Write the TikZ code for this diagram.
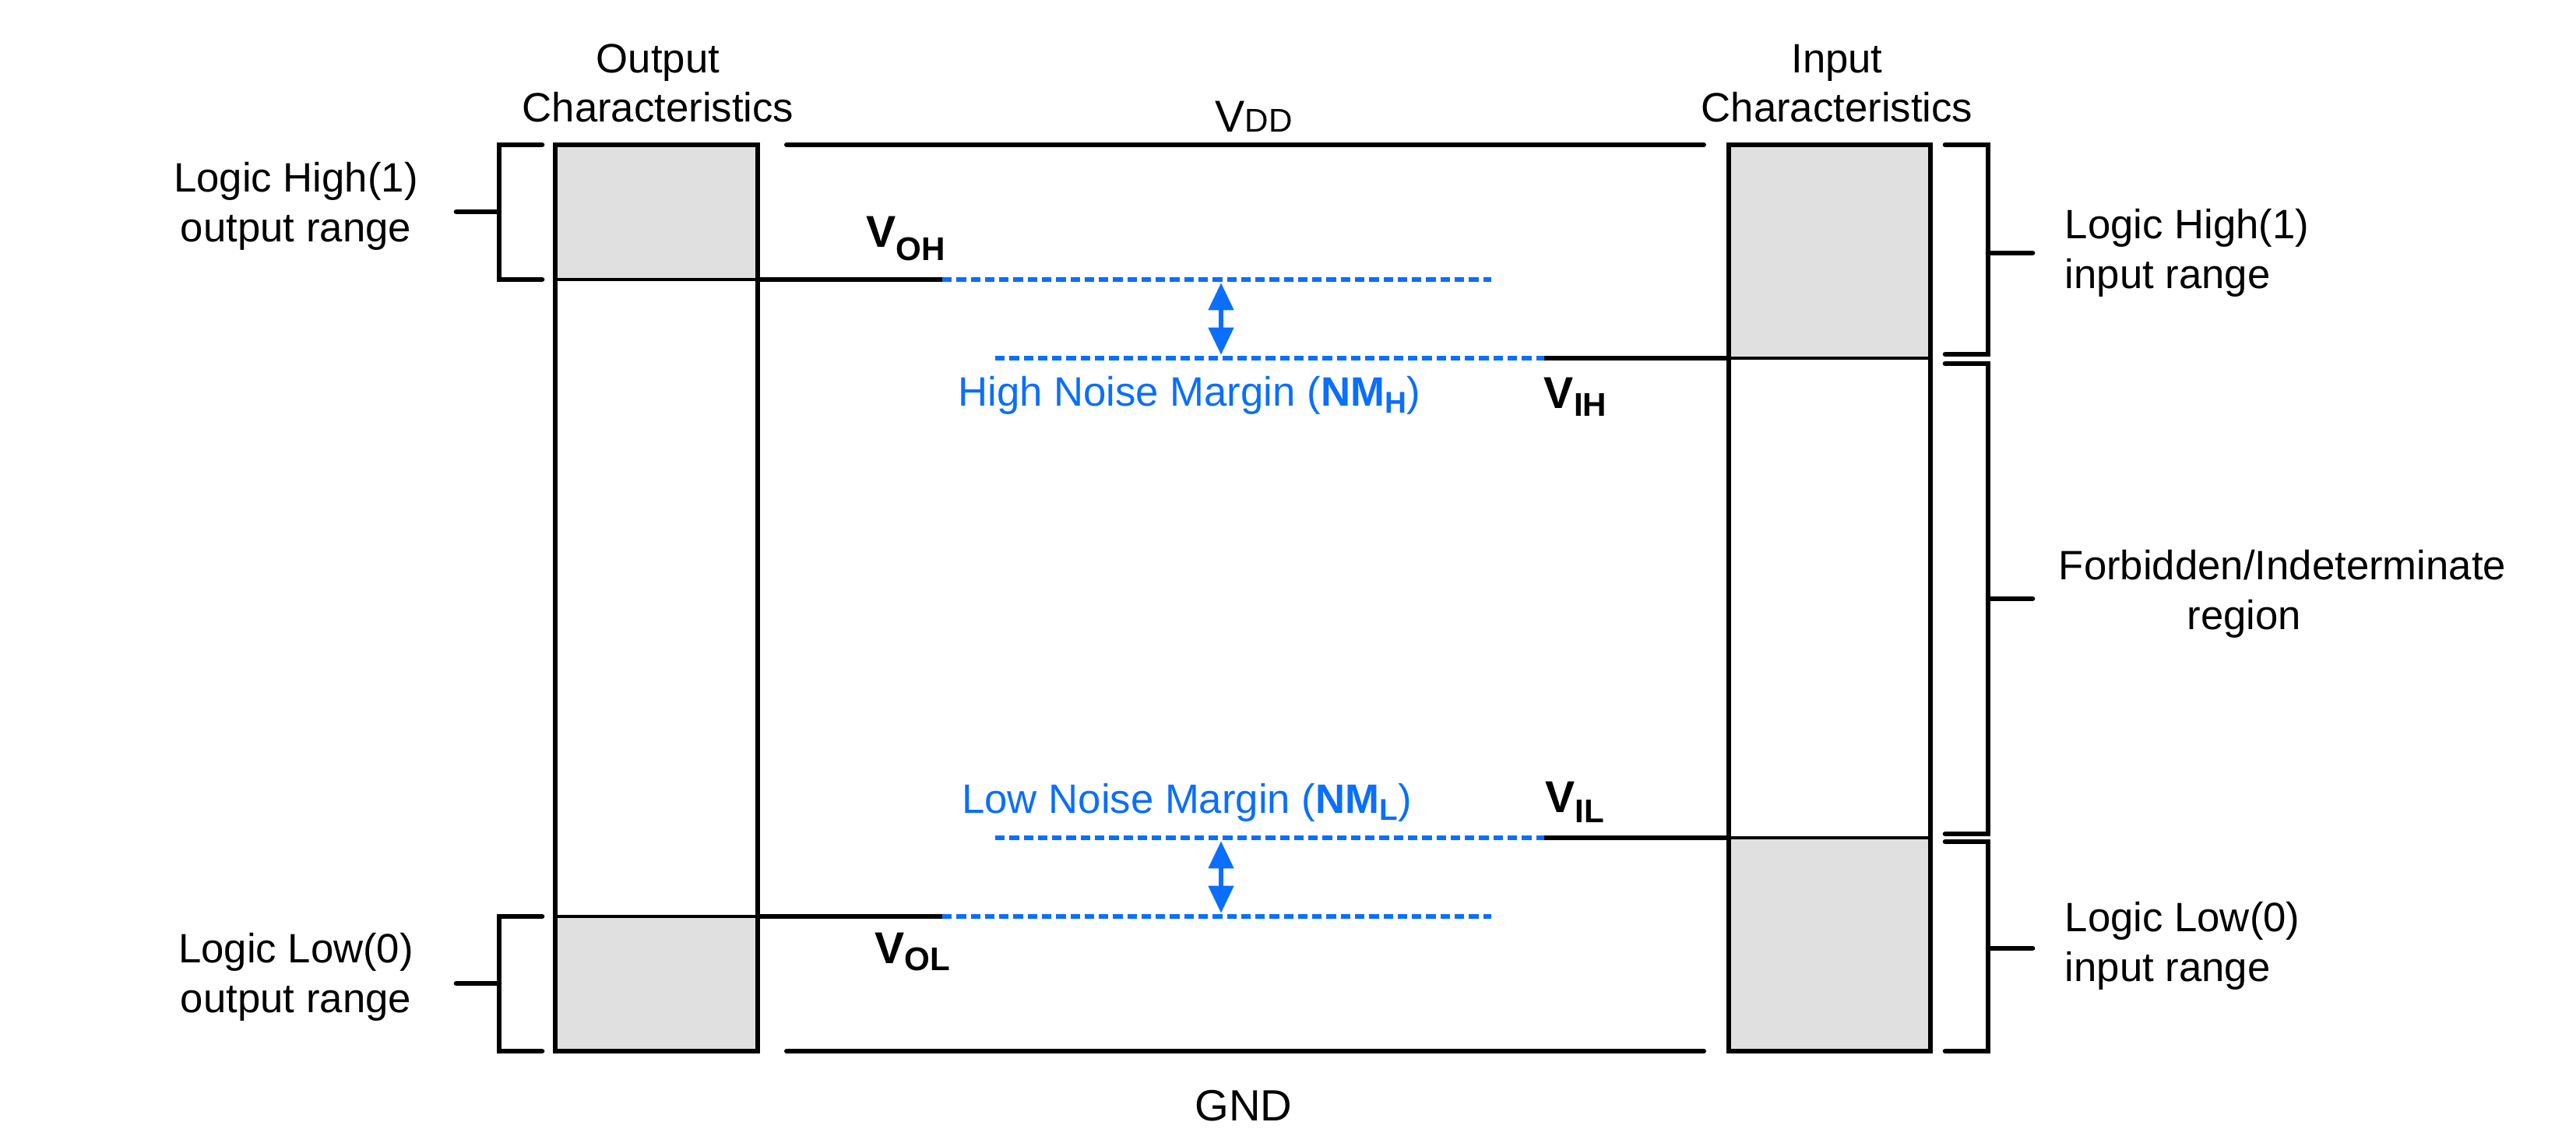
\documentclass[tikz,border=0pt]{standalone}
\usepackage{fontspec}
\setmainfont{Liberation Sans}
\usetikzlibrary{arrows.meta}
\definecolor{nmblue}{HTML}{0A6EFF}
\definecolor{bandgray}{HTML}{E0E0E0}

\newcommand{\vlev}[2][3pt]{{\fontsize{16.3}{16.3}\selectfont\bfseries V}\raisebox{-#1}{\fontsize{12}{12}\selectfont\bfseries #2}}
\newcommand{\nmlev}[1]{\textbf{NM}\raisebox{-2.5pt}{\fontsize{11}{11}\selectfont\bfseries #1}}

\begin{document}
\begin{tikzpicture}[font=\fontsize{15}{18}\selectfont,
  rail/.style={line width=1.7pt, line cap=round},
  colbox/.style={line width=1.5pt},
  divline/.style={line width=1.1pt},
  lvl/.style={line width=1.6pt},
  margin/.style={nmblue, line width=1.6pt, dash pattern=on 3.5pt off 1.7pt},
  nmgap/.style={nmblue, line width=1.7pt, shorten <=1.2pt, shorten >=1.2pt,
    {Triangle[length=10pt,width=9pt]}-{Triangle[length=10pt,width=9pt]}},
  brace/.style={line width=1.9pt, line cap=round},
  lbl/.style={align=center, inner sep=0pt}]

\useasboundingbox (0,0) rectangle (33.08,14.5);

% Output characteristics column
\fill[bandgray] (7.13,10.91) rectangle (9.73,12.64);
\fill[bandgray] (7.13,1.00) rectangle (9.73,2.73);
\draw[divline] (7.13,10.91) -- (9.73,10.91);
\draw[divline] (7.13,2.73) -- (9.73,2.73);
\draw[colbox] (7.13,1.00) rectangle (9.73,12.64);
\node[lbl] (outhead) at (8.45,13.43) {Output\\Characteristics};

% Input characteristics column
\fill[bandgray] (22.20,9.90) rectangle (24.79,12.64);
\fill[bandgray] (22.20,1.00) rectangle (24.79,3.74);
\draw[divline] (22.20,9.90) -- (24.79,9.90);
\draw[divline] (22.20,3.74) -- (24.79,3.74);
\draw[colbox] (22.20,1.00) rectangle (24.79,12.64);
\node[lbl] (inhead) at (23.59,13.43) {Input\\Characteristics};

% Supply rails
\coordinate (vddL) at (10.10,12.64);
\coordinate (vddR) at (21.88,12.64);
\coordinate (gndL) at (10.10,1.00);
\coordinate (gndR) at (21.88,1.00);
\draw[rail] (vddL) -- (vddR);
\draw[rail] (gndL) -- (gndR);
\node[anchor=base, inner sep=0pt] (vddlbl) at (16.10,12.80)
  {{\fontsize{16.3}{16.3}\selectfont V}{\fontsize{12}{12}\selectfont DD}};
\node[anchor=base, inner sep=0pt, font=\fontsize{16}{16}\selectfont] (gndlbl) at (15.97,0.10) {GND};

% Output levels
\coordinate (ohA) at (9.73,10.91);
\coordinate (ohB) at (12.10,10.91);
\coordinate (ohC) at (19.15,10.91);
\coordinate (olA) at (9.73,2.73);
\coordinate (olB) at (12.10,2.73);
\coordinate (olC) at (19.15,2.73);
\draw[lvl] (ohA) -- (ohB);
\draw[margin] (ohB) -- (ohC);
\draw[lvl] (olA) -- (olB);
\draw[margin] (olB) -- (olC);
\node[anchor=base, inner sep=0pt] (vohlbl) at (11.63,11.32) {\vlev[4.8pt]{OH}};
\node[anchor=base, inner sep=0pt] (vollbl) at (11.72,2.12) {\vlev[2.5pt]{OL}};

% Input levels
\coordinate (ihA) at (12.78,9.90);
\coordinate (ihB) at (19.83,9.90);
\coordinate (ihC) at (22.20,9.90);
\coordinate (ilA) at (12.78,3.74);
\coordinate (ilB) at (19.83,3.74);
\coordinate (ilC) at (22.20,3.74);
\draw[margin] (ihA) -- (ihB);
\draw[lvl] (ihB) -- (ihC);
\draw[margin] (ilA) -- (ilB);
\draw[lvl] (ilB) -- (ilC);
\node[anchor=base, inner sep=0pt] (vihlbl) at (20.23,9.25) {\vlev[2.8pt]{IH}};
\node[anchor=base, inner sep=0pt] (villbl) at (20.22,4.06) {\vlev[3.5pt]{IL}};

% Noise margins
\coordinate (nmhT) at (15.68,10.91);
\coordinate (nmhB) at (15.68,9.90);
\coordinate (nmlT) at (15.68,3.74);
\coordinate (nmlB) at (15.68,2.73);
\draw[nmgap] (nmhT) -- (nmhB);
\draw[nmgap] (nmlT) -- (nmlB);
\node[anchor=base, inner sep=0pt, text=nmblue] (nmhlbl) at (15.27,9.28)
  {High Noise Margin (\nmlev{H})};
\node[anchor=base, inner sep=0pt, text=nmblue] (nmllbl) at (15.24,4.05)
  {Low Noise Margin (\nmlev{L})};

% Output range brackets
\draw[brace] (6.96,12.64) -- (6.41,12.64) -- (6.41,10.91) -- (6.96,10.91);
\draw[brace] (6.41,11.78) -- (5.86,11.78);
\draw[brace] (6.96,2.73) -- (6.41,2.73) -- (6.41,1.00) -- (6.96,1.00);
\draw[brace] (6.41,1.87) -- (5.86,1.87);
\node[lbl] (hioutlbl) at (3.80,11.85) {Logic High(1)\\output range};
\node[lbl] (looutlbl) at (3.80,1.95) {Logic Low(0)\\output range};

% Input range brackets
\draw[brace] (24.98,12.64) -- (25.53,12.64) -- (25.53,9.95) -- (24.98,9.95);
\draw[brace] (25.53,11.25) -- (26.10,11.25);
\draw[brace] (24.98,9.83) -- (25.53,9.83) -- (25.53,3.79) -- (24.98,3.79);
\draw[brace] (25.53,6.81) -- (26.10,6.81);
\draw[brace] (24.98,3.69) -- (25.53,3.69) -- (25.53,1.00) -- (24.98,1.00);
\draw[brace] (25.53,2.32) -- (26.10,2.32);
\node[lbl, align=left, anchor=west] (hiinlbl) at (26.51,11.25) {Logic High(1)\\input range};
\node[lbl] (forblbl) at (29.31,6.87) {Forbidden/Indeterminate\\region\hspace*{0.98cm}};
\node[lbl, align=left, anchor=west] (loinlbl) at (26.51,2.35) {Logic Low(0)\\input range};

\end{tikzpicture}
\end{document}
